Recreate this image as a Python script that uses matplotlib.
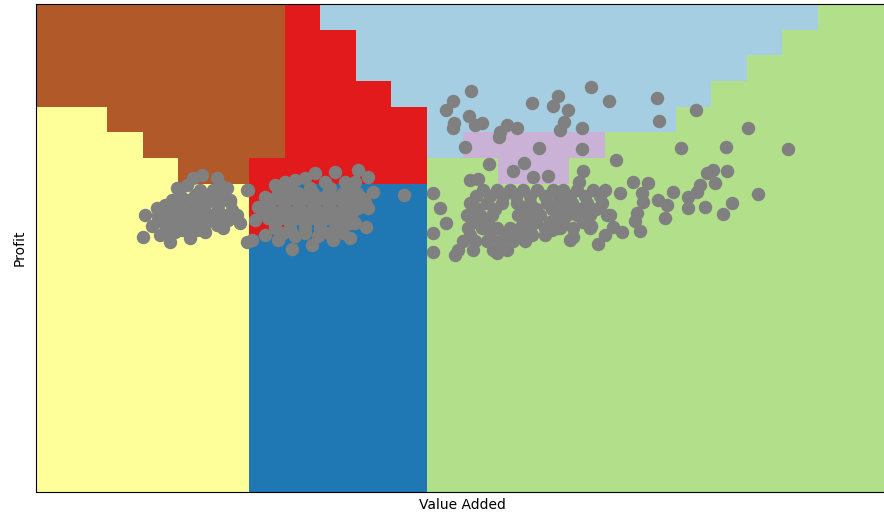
import numpy as np
import matplotlib
matplotlib.use('Agg')
import matplotlib.pyplot as plt

# predicted class per mesh cell, top row first (cell = 10 x 10 units)
# B brown, Y yellow, R red, L light blue, D dark blue, G green, P purple
REGION_ROWS = [
   'BBBBBBBRLLLLLLLLLLLLLLGG',
   'BBBBBBBRRLLLLLLLLLLLLGGG',
   'BBBBBBBRRLLLLLLLLLLLGGGG',
   'BBBBBBBRRRLLLLLLLLLGGGGG',
   'YYBBBBBRRRRLLLLLLLGGGGGG',
   'YYYBBBBRRRRLPPPPGGGGGGGG',
   'YYYYBBRRRRRGGPPGGGGGGGGG',
   'YYYYYYRDDDDGGGGGGGGGGGGG',
   'YYYYYYRDDDDGGGGGGGGGGGGG',
] + ['YYYYYYDDDDDGGGGGGGGGGGGG'] * 10
CLASS_INDEX = {'L': 0, 'D': 1, 'G': 2, 'R': 5, 'P': 8, 'Y': 10, 'B': 11}
STEP = 10

value_added = [
   # low group
   44.2, 46.7, 50.9, 42.5, 39.7, 53.7, 59.4, 30.7, 34.0, 30.1, 34.9, 37.7, 43.3, 56.5, 57.4, 59.4, 54.6, 52.6,
   40.5, 44.7, 48.9, 52.3, 36.3, 39.9, 43.9, 47.5, 51.2, 34.3, 37.7, 41.4, 45.0, 48.9, 52.6,
   36.3, 39.9, 43.6, 47.3, 50.9, 39.1, 43.3, 47.5, 32.6, 51.8,
   46.1, 49.8, 38.3, 42.5, 46.7, 50.6, 54.6, 35.4, 39.4, 43.3, 47.3, 51.2, 55.1,
   34.3, 38.3, 42.2, 46.1, 50.1, 54.0, 37.1, 41.1, 45.3,
   # middle group
   67.2, 72.9, 75.7, 78.5, 84.1, 86.9, 90.6, 93.4, 94.8, 92.5, 93.4, 92.8, 88.3, 89.7, 83.5, 77.6, 72.0, 68.1,
   60.8, 64.4, 59.6, 62.4, 61.6, 64.4, 68.1, 103.5,
   71.4, 77.1, 82.7, 88.3, 67.2, 71.4, 75.7, 79.9, 84.1, 88.3, 91.7, 65.8, 70.0, 74.3, 78.5, 82.7, 86.9, 90.6,
   65.3, 69.5, 73.7, 77.9, 82.1, 86.4, 67.2, 71.4, 75.7, 79.9, 85.0, 72.9, 79.3,
   69.5, 73.7, 77.9, 82.1, 86.4, 90.3, 65.3, 69.5, 73.7, 77.9, 82.1, 86.4, 90.3,
   63.9, 67.8, 72.0, 76.2, 80.5, 84.7, 88.9, 67.2, 71.4, 75.7, 79.9, 84.1, 88.3,
   69.5, 75.7, 82.1, 86.4, 70.0, 81.3, 89.7,
   # high group
   122.4, 117.3, 115.3, 121.8, 117.6, 117.3, 123.5, 125.5, 139.5, 146.8, 145.4, 149.7, 156.1, 161.2, 174.7,
   175.2, 185.7, 200.3, 211.5, 194.1, 181.4, 132.5, 130.5, 130.2, 135.3, 148.5, 147.4, 153.6, 120.7, 141.5,
   153.6, 127.4, 137.3, 134.2, 163.2, 153.9, 139.8, 144.0, 122.1, 124.3, 152.7, 167.9, 172.2, 188.8, 190.4,
   194.4, 191.0, 186.8, 185.9, 179.2, 203.1, 183.4, 183.4, 188.2, 195.8, 193.3, 176.9, 175.0, 177.5, 170.5,
   170.7, 169.1, 168.5, 169.9, 164.3, 161.5, 162.3, 164.8, 160.1, 158.1, 111.7, 113.6, 115.3, 111.7, 111.7,
   117.9, 149.4, 147.4, 145.1, 153.9, 156.1, 151.1, 150.2, 137.0, 129.7,
   125.7, 129.7, 133.3, 137.0, 140.9, 145.4, 148.2, 152.2, 156.7, 160.1,
   122.1, 126.9, 131.1, 135.3, 139.0, 143.7, 147.4, 150.8, 155.0, 159.2,
   121.2, 124.9, 128.3, 135.6, 139.0, 141.8, 146.6, 149.4, 152.2, 155.8, 160.6,
   121.5, 125.5, 129.7, 133.3, 136.2, 139.0, 143.2, 146.8, 151.1, 155.8,
   120.1, 123.5, 126.9, 130.5, 134.2, 137.6, 118.7, 122.9, 128.6, 132.5,
   123.8, 127.7, 131.4, 135.0, 139.0, 143.2, 146.8, 150.2, 154.4, 158.7,
   124.3, 129.1, 137.0, 140.6, 145.1, 148.2, 153.0, 157.5,
   123.5, 127.1, 137.0, 140.6, 144.6, 148.2, 153.9,
   122.1, 127.7, 131.9, 135.6, 139.5, 143.2,
]
profit = [
   # low group
   122.3, 123.4, 122.3, 119.5, 118.4, 118.4, 117.6, 107.9, 110.6, 99.3, 100.1, 97.4, 98.9, 107.9, 104.8, 97.4, 112.9, 102.8,
   115.7, 115.7, 115.7, 115.7, 111.8, 111.8, 111.8, 111.8, 111.8, 107.9, 107.9, 107.9, 107.9, 107.9, 107.9,
   104.0, 104.0, 104.0, 104.0, 104.0, 101.2, 101.2, 101.2, 103.6, 119.5,
   117.6, 117.6, 113.7, 113.7, 113.7, 113.7, 113.7, 109.8, 109.8, 109.8, 109.8, 109.8, 109.8,
   105.9, 105.9, 105.9, 105.9, 105.9, 105.9, 102.0, 102.0, 102.0,
   # middle group
   119.5, 121.5, 122.3, 124.2, 124.6, 120.7, 125.4, 122.7, 116.8, 112.9, 110.6, 103.2, 98.9, 104.8, 98.1, 96.2, 94.6, 98.1,
   98.1, 100.1, 117.6, 111.0, 105.9, 114.9, 116.4, 115.7,
   118.4, 118.4, 118.4, 118.4, 114.5, 114.5, 114.5, 114.5, 114.5, 114.5, 114.5, 110.6, 110.6, 110.6, 110.6, 110.6, 110.6, 110.6,
   106.7, 106.7, 106.7, 106.7, 106.7, 106.7, 102.8, 102.8, 102.8, 102.8, 102.8, 99.7, 99.7,
   116.4, 116.4, 116.4, 116.4, 116.4, 116.4, 112.5, 112.5, 112.5, 112.5, 112.5, 112.5, 112.5,
   108.6, 108.6, 108.6, 108.6, 108.6, 108.6, 108.6, 104.8, 104.8, 104.8, 104.8, 104.8, 104.8,
   100.9, 100.9, 100.9, 100.9, 120.7, 120.7, 120.7,
   # high group
   156.1, 152.3, 148.8, 146.4, 143.7, 141.7, 142.9, 143.7, 151.5, 154.2, 150.3, 148.8, 157.7, 152.3, 153.4,
   144.5, 148.8, 141.7, 133.6, 134.3, 134.0, 142.9, 140.2, 138.2, 141.7, 144.1, 141.0, 141.7, 134.3, 134.0,
   133.6, 127.7, 128.1, 125.0, 129.3, 125.0, 122.7, 123.0, 121.5, 121.9, 120.7, 120.7, 120.3, 124.2, 125.4,
   125.0, 120.3, 119.5, 116.8, 116.8, 116.0, 114.9, 110.6, 111.0, 112.5, 108.3, 106.7, 113.7, 111.8, 116.4,
   112.9, 108.6, 105.5, 101.6, 116.4, 107.9, 103.2, 101.2, 100.1, 96.6, 116.4, 110.6, 104.8, 100.9, 93.5,
   92.3, 108.6, 102.8, 102.0, 106.7, 103.6, 99.3, 98.1, 98.9, 93.1,
   117.6, 117.6, 117.6, 117.6, 117.6, 117.6, 117.6, 117.6, 117.6, 117.6,
   112.5, 112.5, 112.5, 112.5, 112.5, 112.5, 112.5, 112.5, 112.5, 112.5,
   107.9, 107.9, 107.9, 107.9, 107.9, 107.9, 107.9, 107.9, 107.9, 107.9, 107.9,
   102.8, 102.8, 102.8, 102.8, 102.8, 102.8, 102.8, 102.8, 102.8, 102.8,
   97.7, 97.7, 97.7, 97.7, 97.7, 97.7, 94.2, 94.2, 94.2, 94.2,
   115.3, 115.3, 115.3, 115.3, 115.3, 115.3, 115.3, 115.3, 115.3, 115.3,
   110.2, 110.2, 110.2, 110.2, 110.2, 110.2, 110.2, 110.2,
   105.1, 105.1, 105.1, 105.1, 105.1, 105.1, 105.1,
   100.1, 100.1, 100.1, 100.1, 100.1, 100.1,
]


def main():
   Z = np.array([[CLASS_INDEX[c] for c in row] for row in REGION_ROWS[::-1]])
   ny, nx = Z.shape
   xx = np.arange(nx + 1) * STEP
   yy = np.arange(ny + 1) * STEP

   fig = plt.figure(figsize=(8.84, 5.17), dpi=100)
   ax = fig.add_axes([36 / 884, 25 / 517, 853 / 884, 488 / 517])
   ax.pcolormesh(xx, yy, Z, cmap='Paired', vmin=-0.5, vmax=11.5)
   ax.scatter(value_added, profit, c='grey', s=75)

   ax.set_xlim(0, 240)
   ax.set_ylim(0, 190)
   ax.set_xticks([])
   ax.set_yticks([])
   ax.set_xlabel('Value Added')
   ax.set_ylabel('Profit', labelpad=7)

   plt.savefig('out.png', dpi=100)
   plt.close()


if __name__ == '__main__':
   main()
